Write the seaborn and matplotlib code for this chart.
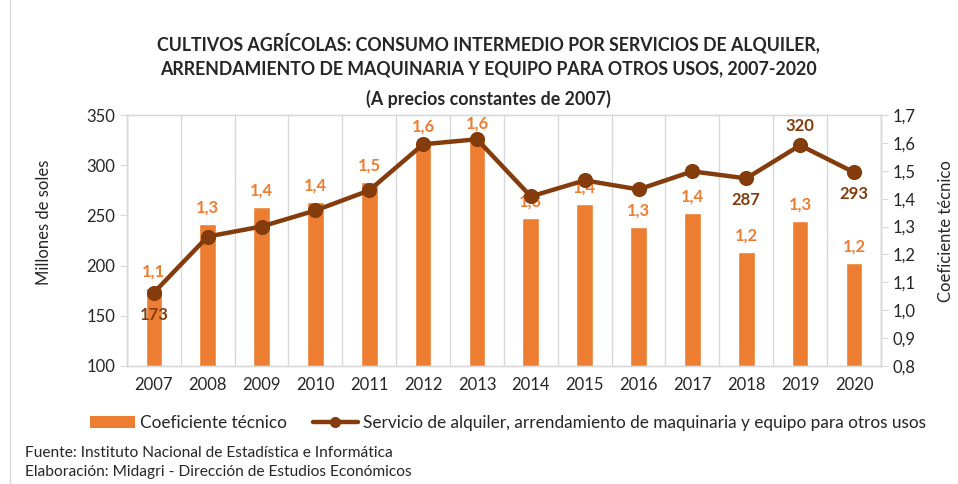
import numpy as np
import pandas as pd
import seaborn as sns
import matplotlib.pyplot as plt
from matplotlib.patches import Patch
from matplotlib.lines import Line2D
from matplotlib.ticker import FuncFormatter, FixedLocator

# datos
years = ['2007', '2008', '2009', '2010', '2011', '2012', '2013',
         '2014', '2015', '2016', '2017', '2018', '2019', '2020']
coef = [1.08, 1.31, 1.37, 1.39, 1.46, 1.60, 1.61,
        1.33, 1.38, 1.30, 1.35, 1.21, 1.32, 1.17]
servicio = [173, 229, 239, 255, 275, 321, 326,
            269, 285, 276, 294, 287, 320, 293]
# solo algunos puntos de la linea tienen etiqueta
line_labels = {'2007': 'below', '2018': 'below', '2019': 'above', '2020': 'below'}

df = pd.DataFrame({'year': years, 'coef': coef, 'servicio': servicio})

sns.set_style('white')
plt.rcParams['font.family'] = ['Lato', 'DejaVu Sans']

bar_color = '#ED7D31'
line_color = '#843C0C'
grid_color = '#D9D9D9'

fig = plt.figure(figsize=(9.58, 4.84), dpi=100)
ax = fig.add_axes([0.1325, 0.244, 0.787, 0.518])  # barras (eje derecho)
ax2 = ax.twinx()  # linea (eje izquierdo)

sns.barplot(data=df, x='year', y='coef', color=bar_color, width=0.31,
            saturation=1, ax=ax)
sns.pointplot(data=df, x='year', y='servicio', color=line_color,
              markers='o', markersize=8.5, linewidth=3.2, ax=ax2)

# ejes: barras a la derecha, linea a la izquierda
ax.set_ylim(0.8, 1.7)
ax.set_yticks(np.arange(0.8, 1.71, 0.1))
ax.yaxis.tick_right()
ax.yaxis.set_label_position('right')
ax.yaxis.set_major_formatter(FuncFormatter(lambda v, p: f'{v:.1f}'.replace('.', ',')))
ax.set_ylabel('Coeficiente técnico', fontsize=12, rotation=90)
ax.yaxis.set_label_coords(1.0756, 0.538)

ax2.set_ylim(100, 350)
ax2.set_yticks(range(100, 351, 50))
ax2.yaxis.tick_left()
ax2.yaxis.set_label_position('left')
ax2.set_ylabel('Millones de soles', fontsize=12)
ax2.yaxis.set_label_coords(-0.0995, 0.574)

ax.set_xlim(-0.5, len(years) - 0.5)
ax.set_xlabel('')
ax2.set_xlabel('')
ax.tick_params(axis='x', which='major', length=0, labelsize=12, pad=8)
ax.xaxis.set_minor_locator(FixedLocator(np.arange(-0.5, len(years), 1)))
ax.tick_params(axis='x', which='minor', length=5, color=grid_color)
ax.grid(axis='x', which='minor', color=grid_color, linewidth=1)
ax.set_axisbelow(True)
ax.tick_params(axis='y', labelsize=12, length=5, color=grid_color, right=True, left=False)
ax2.tick_params(axis='y', labelsize=12, length=5, color=grid_color, left=True, right=False)

for a in (ax, ax2):
    for s in a.spines.values():
        s.set_color(grid_color)
        s.set_linewidth(1)

# etiquetas de barras
for i, v in enumerate(coef):
    ax.annotate(f'{v:.1f}'.replace('.', ','), (i, v), xytext=(0, 6),
                textcoords='offset points', ha='center', va='bottom',
                color=bar_color, fontsize=12, fontweight='bold')

# etiquetas de la linea
for i, (yr, v) in enumerate(zip(years, servicio)):
    if yr in line_labels:
        off = 8 if line_labels[yr] == 'above' else -10
        va = 'bottom' if off > 0 else 'top'
        ax2.annotate(str(v), (i, v), xytext=(0, off), textcoords='offset points',
                     ha='center', va=va, color=line_color, fontsize=12,
                     fontweight='bold')

fig.text(0.51, 0.887, 'CULTIVOS AGRÍCOLAS: CONSUMO INTERMEDIO POR SERVICIOS DE ALQUILER,\n'
         'ARRENDAMIENTO DE MAQUINARIA Y EQUIPO PARA OTROS USOS, 2007-2020',
         ha='center', va='center', fontsize=12.8, fontweight='bold', linespacing=1.5)
fig.text(0.51, 0.796, '(A precios constantes de 2007)', ha='center', va='center',
         fontsize=12.8, fontweight='bold')

handles = [Patch(facecolor=bar_color, edgecolor='none'),
           Line2D([0], [0], color=line_color, linewidth=3.2, marker='o', markersize=7)]
fig.legend(handles, ['Coeficiente técnico',
                     'Servicio de alquiler, arrendamiento de maquinaria y equipo para otros usos'],
           loc='center', bbox_to_anchor=(0.53, 0.126), ncol=2, frameon=False,
           fontsize=12.45, handlelength=2.6, columnspacing=1.5, handletextpad=0.3)

fig.text(0.026, 0.064, 'Fuente: Instituto Nacional de Estadística e Informática',
         fontsize=11.2, va='center')
fig.text(0.026, 0.025, 'Elaboración: Midagri - Dirección de Estudios Económicos',
         fontsize=11.2, va='center')

# borde izquierdo del area del grafico
fig.add_artist(Line2D([0.0105, 0.0105], [0, 1], transform=fig.transFigure,
                      color=grid_color, linewidth=1))

fig.savefig('out.png', dpi=100)
